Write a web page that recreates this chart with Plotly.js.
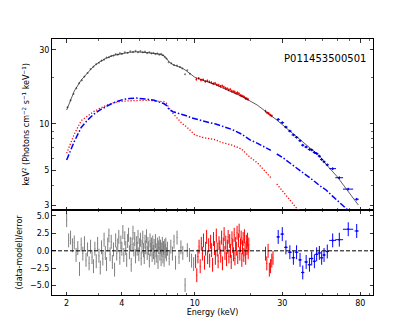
<!DOCTYPE html>
<html>
<head>
<meta charset="utf-8">
<script src="https://cdn.plot.ly/plotly-3.0.1.min.js"></script>
<style>
  html, body { margin: 0; padding: 0; background: #fff; }
  #spec { width: 415px; height: 332px; }
</style>
</head>
<body>
<div id="spec"></div>
<script>
// model curves (LE + ME part, then HE part after the gap)
var modelE   = [2.0, 2.2, 2.4, 2.6, 2.8, 3.0, 3.3, 3.6, 4.0, 4.4, 4.8, 5.2, 5.6, 6.0, 6.4, 6.8, 7.0, 7.2, 7.6, 8.0, 8.5, 9.0, 9.5, 10, 11, 12, 13, 14, 15, 16, 18, 20, 22, 24, 26, 28, 30, 33, 36, 40, 44, 48, 52, 56, 60, 65, 70, 75, 78];
var modelTot = [12.3, 16.3, 19.2, 21.5, 23.5, 25.0, 26.6, 27.7, 28.5, 29.0, 29.2, 29.1, 28.8, 28.5, 28.2, 27.5, 26.6, 25.3, 24.1, 23.6, 23.0, 22.0, 21.0, 20.0, 19.2, 18.6, 17.9, 17.2, 16.5, 16.0, 15.1, 14.0, 13.2, 12.2, 11.4, 10.6, 9.9, 9.0, 8.2, 7.4, 6.8, 6.2, 5.5, 5.0, 4.55, 4.0, 3.55, 3.15, 3.0];

var compE   = [2.0, 2.2, 2.4, 2.6, 2.8, 3.0, 3.3, 3.6, 4.0, 4.4, 4.8, 5.2, 5.6, 6.0, 6.4, 6.8, 7.0, 7.2, 7.6, 8.0, 8.5, 9.0, 9.5, 10, 11, 12, 13, 14, 15, 16, 18, 20, 22, 24, 26];
var compRed = [6.47, 8.6, 10.5, 11.3, 12.0, 12.5, 13.2, 13.7, 14.0, 14.1, 14.2, 14.2, 14.2, 14.1, 14.1, 13.9, 13.6, 12.8, 11.7, 10.9, 10.1, 9.6, 9.0, 8.5, 8.2, 8.05, 7.9, 7.6, 7.45, 7.3, 6.9, 6.1, 5.6, 5.0, 4.5];
var compBlue = [5.86, 7.7, 9.5, 10.6, 11.5, 12.2, 13.0, 13.7, 14.3, 14.6, 14.7, 14.6, 14.4, 14.2, 13.9, 13.5, 13.2, 12.5, 12.0, 11.8, 11.5, 11.3, 11.0, 10.8, 10.5, 10.2, 10.0, 9.7, 9.4, 9.2, 8.6, 7.9, 7.5, 7.1, 6.75];
var compE_he    = [28, 30, 33, 36, 38, 40, 44, 48, 52, 56, 60, 65, 68];
var compRed_he  = [4.1, 3.7, 3.2, 2.85, 2.7, null, null, null, null, null, null, null, null];
var compBlue_he = [6.4, 6.1, 5.6, 5.2, 4.95, 4.75, 4.35, 4.0, 3.75, 3.45, 3.2, 2.95, 2.8];

// LE (grey) spectrum, top panel
var leE = [2.02, 2.1, 2.18, 2.26, 2.34, 2.42, 2.5, 2.6, 2.7, 2.8, 2.9, 3.0, 3.1, 3.2, 3.3, 3.4, 3.5, 3.6, 3.7, 3.8, 3.9, 4.0, 4.15, 4.3, 4.45, 4.6, 4.75, 4.9, 5.05, 5.2, 5.35, 5.5, 5.65, 5.8, 5.95, 6.1, 6.25, 6.4, 6.55, 6.7, 6.85, 7.0, 7.2, 7.45, 7.7, 8.0, 8.3, 8.55, 8.85, 9.1, 9.4];
var leF = [12.8, 14.2, 15.6, 17.0, 18.3, 19.1, 20.2, 21.3, 22.6, 23.4, 24.3, 24.8, 25.6, 26.0, 26.8, 26.9, 27.5, 27.6, 28.2, 28.0, 28.6, 28.3, 29.0, 28.7, 29.4, 29.1, 29.6, 29.0, 29.5, 29.0, 29.3, 28.6, 29.0, 28.5, 28.7, 28.2, 28.5, 28.0, 28.3, 27.8, 27.0, 26.4, 25.0, 24.6, 24.0, 23.8, 23.3, 22.8, 20.9, 22.2, 21.1];

// ME (red) spectrum, top panel
var meE = [10.2, 10.5, 10.8, 11.1, 11.4, 11.7, 12.0, 12.3, 12.6, 12.9, 13.2, 13.5, 13.8, 14.1, 14.4, 14.7, 15.0, 15.3, 15.6, 15.9, 16.2, 16.5, 16.8, 17.1, 17.4, 17.7, 18.0, 18.3, 18.6, 18.9, 19.2, 19.5, 24.3, 24.8, 25.3, 25.8, 26.3];
var meF = [19.4, 19.7, 19.2, 19.3, 18.8, 19.0, 18.7, 18.5, 18.2, 18.3, 17.9, 17.8, 17.5, 17.6, 17.3, 17.0, 16.9, 16.6, 16.7, 16.3, 16.2, 16.1, 15.8, 15.9, 15.7, 15.3, 15.2, 15.1, 14.9, 14.6, 14.6, 14.4, 12.1, 11.8, 11.7, 11.4, 11.3];

// HE (blue) spectrum, top and bottom panels share energies
var heE   = [28.5, 30.0, 31.4, 33.0, 34.5, 35.9, 37.5, 38.8, 40.5, 42.2, 43.4, 44.9, 46.2, 47.8, 49.2, 50.7, 52.8, 56.5, 61.4, 68.7, 76.4];
var heErr = [0.6, 0.7, 0.7, 0.8, 0.8, 0.8, 0.8, 0.8, 0.9, 0.9, 0.9, 0.9, 1.0, 1.0, 1.0, 1.0, 1.1, 2.4, 3.0, 4.4, 2.0];
var heF   = [10.7, 10.2, 9.55, 9.0, 8.5, 8.2, 7.8, 7.3, 7.1, 6.85, 6.8, 6.55, 6.45, 6.2, 5.9, 5.7, 5.45, 5.15, 4.5, 3.8, 3.27];
var heR   = [2.0, 2.4, 0.5, -0.2, -1.0, -0.2, -1.3, -3.1, -1.6, -2.0, -1.1, -1.5, -0.5, -0.3, -1.0, -0.6, -0.1, 1.5, 1.6, 3.1, 2.85];

// LE residuals
var leRE = [2.00, 2.05, 2.10, 2.15, 2.20, 2.25, 2.30, 2.35, 2.40, 2.45, 2.50, 2.55, 2.60, 2.65, 2.70, 2.75, 2.80, 2.85, 2.90, 2.95,
            3.00, 3.05, 3.10, 3.15, 3.20, 3.25, 3.30, 3.35, 3.40, 3.45, 3.50, 3.55, 3.60, 3.65, 3.70, 3.75, 3.80, 3.85, 3.90, 3.95,
            4.00, 4.05, 4.10, 4.15, 4.20, 4.25, 4.30, 4.35, 4.40, 4.45, 4.50, 4.55, 4.60, 4.65, 4.70, 4.75, 4.80, 4.85, 4.90, 4.95,
            5.00, 5.05, 5.10, 5.15, 5.20, 5.25, 5.30, 5.35, 5.40, 5.45, 5.50, 5.55, 5.60, 5.65, 5.70, 5.75, 5.80, 5.85, 5.90, 5.95,
            6.00, 6.05, 6.10, 6.15, 6.20, 6.25, 6.30, 6.35, 6.40, 6.45, 6.50, 6.55, 6.60, 6.65, 6.70, 6.75, 6.80, 6.85, 6.90, 6.95,
            7.00, 7.1, 7.25, 7.4, 7.55, 7.7, 7.85, 8.0, 8.2, 8.4, 8.6, 8.85, 9.1, 9.35, 9.6, 9.85];
var leR  = [4.4, 1.5, 1.9, 0.8, 1.2, -0.6, 0.4, -2.6, 0.9, -0.4, 1.1, -1.3, 0.2, -1.8, 0.6, -0.9, -2.2, 0.3, -1.5, 1.0,
            -0.7, -2.4, 0.5, -1.1, 1.6, -0.3, -1.9, 0.9, 2.2, -0.5, 1.3, -1.6, 0.2, -2.7, 1.5, -0.4, 0.8, 2.0, -1.0, 1.2,
            0.3, 2.7, -0.6, 1.8, 0.4, -1.3, 1.4, 2.3, -0.2, 1.0, -2.0, 0.9, 2.6, 0.2, 1.7, -0.8, 1.1, 0.3, 2.0, -0.5,
            0.8, 1.6, -1.1, 0.6, 1.9, 0.1, -0.9, 1.3, 0.5, 2.1, -0.3, 1.0, 0.4, -1.4, 1.5, 0.2, 0.9, -0.6, 1.2, -0.2,
            0.7, -1.0, 1.4, 0.1, -0.7, 0.9, -1.6, 0.5, 1.1, -0.4, 0.6, -1.2, 0.2, 1.0, -0.8, 0.4, -1.3, 0.7, -0.1, 0.9,
            -0.5, 0.3, -1.1, 0.6, -0.4, 1.3, -1.7, 1.9, -0.9, 0.5, -0.3, -4.9, 0.1, -0.6, -1.4, -1.9];

// ME residuals
var meRE = [10.10, 10.25, 10.40, 10.55, 10.70, 10.85, 11.00, 11.15, 11.30, 11.45, 11.60, 11.75, 11.90, 12.05, 12.20, 12.35, 12.50, 12.65, 12.80, 12.95,
            13.10, 13.25, 13.40, 13.55, 13.70, 13.85, 14.00, 14.15, 14.30, 14.45, 14.60, 14.75, 14.90, 15.05, 15.20, 15.35, 15.50, 15.65, 15.80, 15.95,
            16.10, 16.25, 16.40, 16.55, 16.70, 16.85, 17.00, 17.15, 17.30, 17.45, 17.60, 17.75, 17.90, 18.05, 18.20, 18.35, 18.50, 18.65, 18.80, 18.95,
            19.10, 19.25, 19.40, 19.55, 19.70, 24.3, 24.7, 25.1, 25.5, 25.9, 26.3, 26.7];
var meR  = [-1.5, -3.5, -0.8, 0.6, -2.2, 1.0, -0.4, 1.5, -1.7, 0.3, 2.0, -0.9, 0.8, -1.4, 1.3, 0.1, -2.0, 1.7, 0.4, -1.0,
            2.2, 0.2, -1.5, 1.1, 0.5, -0.7, 1.9, -1.8, 0.9, 2.4, -0.3, 1.2, -1.2, 0.6, 2.0, -0.8, 1.4, 0.0, -1.6, 1.8,
            0.7, -0.5, 2.3, -1.1, 1.0, 0.3, 2.6, -0.9, 1.5, 2.9, -0.4, 0.8, 1.9, -1.3, 0.5, 1.7, -0.6, 2.1, 0.2, -1.0,
            1.3, 0.4, 1.6, -0.2, 0.9, -0.4, -1.8, 0.0, -2.7, -2.2, -1.4, -1.0];

var xTicks = [2, 4, 10, 30, 80];
var xMinor = [3, 5, 6, 7, 8, 9, 20, 40, 50, 60, 70, 90];
var yTicks = [3, 5, 10, 30];
var yMinor = [4, 6, 7, 8, 9, 20];
var rTicks = [-5, -2.5, 0, 2.5, 5];
var rLabels = ['\u22125.0', '\u22122.5', '0.0', '2.5', '5.0'];
var obsId = 'P011453500501';

var GREY = '#7f7f7f';

var data = [
  // top panel
  {x: leE, y: leF, xaxis: 'x2', yaxis: 'y2', mode: 'markers',
   marker: {color: GREY, size: 1.6},
   error_y: {type: 'percent', value: 1.5, width: 0, thickness: 0.8, color: GREY},
   error_x: {type: 'percent', value: 1.2, width: 0, thickness: 0.8, color: GREY}},
  {x: meE, y: meF, xaxis: 'x2', yaxis: 'y2', mode: 'markers',
   marker: {color: 'red', size: 1.6},
   error_y: {type: 'percent', value: 2, width: 0, thickness: 1, color: 'red'},
   error_x: {type: 'percent', value: 0.8, width: 0, thickness: 0.8, color: 'red'}},
  {x: heE, y: heF, xaxis: 'x2', yaxis: 'y2', mode: 'markers',
   marker: {color: 'blue', size: 2},
   error_x: {type: 'data', array: heErr, width: 0, thickness: 1, color: 'blue'},
   error_y: {type: 'percent', value: 2, width: 0, thickness: 1, color: 'blue'}},
  {x: modelE, y: modelTot, xaxis: 'x2', yaxis: 'y2', mode: 'lines',
   line: {color: 'rgba(0,0,0,0.8)', width: 0.8}},
  {x: compE, y: compRed, xaxis: 'x2', yaxis: 'y2', mode: 'lines',
   line: {color: 'red', width: 1.3, dash: '1.2px,1.8px'}},
  {x: compE_he, y: compRed_he, xaxis: 'x2', yaxis: 'y2', mode: 'lines',
   line: {color: 'red', width: 1.3, dash: '1.2px,1.8px'}},
  {x: compE, y: compBlue, xaxis: 'x2', yaxis: 'y2', mode: 'lines',
   line: {color: 'blue', width: 1.5, dash: '6px,2px,1.5px,2px'}},
  {x: compE_he, y: compBlue_he, xaxis: 'x2', yaxis: 'y2', mode: 'lines',
   line: {color: 'blue', width: 1.5, dash: '6px,2px,1.5px,2px'}},
  // residuals
  {x: leRE, y: leR, xaxis: 'x', yaxis: 'y', mode: 'markers',
   marker: {color: GREY, size: 1},
   error_y: {type: 'constant', value: 1, width: 0, thickness: 1, color: GREY}},
  {x: meRE, y: meR, xaxis: 'x', yaxis: 'y', mode: 'markers',
   marker: {color: 'red', size: 1},
   error_y: {type: 'constant', value: 1, width: 0, thickness: 1, color: 'red'}},
  {x: heE, y: heR, xaxis: 'x', yaxis: 'y', mode: 'markers',
   marker: {color: 'blue', size: 2},
   error_x: {type: 'data', array: heErr, width: 0, thickness: 1, color: 'blue'},
   error_y: {type: 'constant', value: 1, width: 0, thickness: 1, color: 'blue'}}
];

var axFont = {family: 'DejaVu Sans', size: 8, color: '#000'};

var xCommon = {
  type: 'log', range: [0.221, 1.972],
  tickmode: 'array', tickvals: xTicks, ticktext: xTicks.map(String),
  ticks: 'inside', ticklen: 3.5, tickwidth: 0.8, tickcolor: '#000',
  minor: {tickmode: 'array', tickvals: xMinor, ticks: 'inside', ticklen: 2, tickwidth: 0.6, tickcolor: '#000'},
  showline: true, linecolor: '#000', linewidth: 1, mirror: 'allticks',
  showgrid: false, zeroline: false, tickfont: axFont
};

var layout = {
  width: 415, height: 332,
  margin: {l: 52, r: 42, t: 39, b: 37},
  paper_bgcolor: '#fff', plot_bgcolor: '#fff',
  showlegend: false,
  font: {family: 'DejaVu Sans', size: 8, color: '#000'},
  xaxis: Object.assign({}, xCommon, {
    anchor: 'y',
    title: {text: 'Energy (keV)', font: axFont, standoff: 2}
  }),
  xaxis2: Object.assign({}, xCommon, {
    anchor: 'y2', matches: 'x', showticklabels: false
  }),
  yaxis: {
    domain: [0, 0.332], anchor: 'x',
    range: [-6.34, 5.86],
    tickmode: 'array', tickvals: rTicks, ticktext: rLabels,
    ticks: 'inside', ticklen: 3.5, tickwidth: 0.8, tickcolor: '#000',
    showline: true, linecolor: '#000', linewidth: 1, mirror: 'allticks',
    showgrid: false, zeroline: false, tickfont: axFont,
    title: {text: '(data-model)/error', font: axFont, standoff: 6}
  },
  yaxis2: {
    domain: [0.332, 1], anchor: 'x2',
    type: 'log', range: [0.445, 1.548],
    tickmode: 'array', tickvals: yTicks, ticktext: yTicks.map(String),
    ticks: 'inside', ticklen: 3.5, tickwidth: 0.8, tickcolor: '#000',
    minor: {tickmode: 'array', tickvals: yMinor, ticks: 'inside', ticklen: 2, tickwidth: 0.6, tickcolor: '#000'},
    showline: true, linecolor: '#000', linewidth: 1, mirror: 'allticks',
    showgrid: false, zeroline: false, tickfont: axFont,
    title: {text: 'keV<sup>2</sup> (Photons cm<sup>\u22122</sup> s<sup>\u22121</sup> keV<sup>\u22121</sup>)', font: axFont, standoff: 8}
  },
  shapes: [
    {type: 'line', xref: 'paper', x0: 0, x1: 1, yref: 'y', y0: 0, y1: 0,
     line: {color: '#000', width: 1, dash: '4px,2px'}}
  ],
  annotations: [
    {text: obsId, xref: 'paper', yref: 'paper', x: 0.985, y: 0.955,
     xanchor: 'right', yanchor: 'top', showarrow: false,
     font: {family: 'DejaVu Sans', size: 10, color: '#000'}}
  ]
};

Plotly.newPlot('spec', data, layout, {staticPlot: true, displayModeBar: false});
</script>
</body>
</html>
